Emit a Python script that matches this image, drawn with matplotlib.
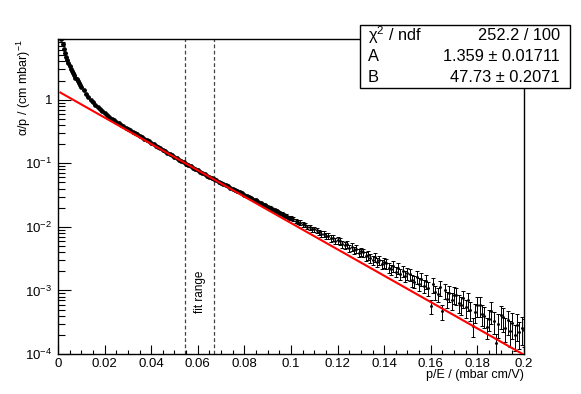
import numpy as np
import matplotlib
matplotlib.use('Agg')
import matplotlib.pyplot as plt
from matplotlib.patches import Rectangle
from matplotlib.ticker import FixedLocator, FixedFormatter, LogLocator, NullFormatter

plt.rcParams['font.family'] = ['Liberation Sans', 'DejaVu Sans']
plt.rcParams['mathtext.fontset'] = 'custom'
plt.rcParams['mathtext.rm'] = 'Liberation Sans'
plt.rcParams['mathtext.it'] = 'Liberation Sans:italic'
plt.rcParams['mathtext.default'] = 'regular'

# fit result (stat box)
A, A_err = 1.359, 0.01711
B, B_err = 47.73, 0.2071
chi2, ndf = 252.2, 100
fit_lo, fit_hi = 0.0545, 0.067

# p/E bin centres: fine steps near 0, then 0.001
x_steep = np.round(np.arange(0.001, 0.01001, 0.0005), 4)
x_main = np.round(np.arange(0.011, 0.20001, 0.001), 3)

# alpha/p
alpha_steep = [11.03, 8.96, 7.44, 6.33, 5.38, 4.74, 4.22, 3.76, 3.38, 3.08,
               2.84, 2.62, 2.42, 2.23, 2.08, 1.94, 1.81, 1.68, 1.57]
alpha_main = [
    1.40, 1.24, 1.106, 0.995, 0.906, 0.831, 0.765, 0.707, 0.655, 0.612,
    0.573, 0.537, 0.505, 0.476, 0.450, 0.426, 0.404, 0.3835, 0.364, 0.346,
    0.3294, 0.3133, 0.2979, 0.2834, 0.2696, 0.2564, 0.2438, 0.2319, 0.2207, 0.2099,
    0.1996, 0.1895, 0.1803, 0.1714, 0.1631, 0.1551, 0.1472, 0.1400, 0.1329, 0.1264,
    0.1202, 0.1143, 0.1088, 0.1034, 0.0984, 0.0936, 0.0897, 0.0851, 0.0815, 0.0774,
    0.0741, 0.0703, 0.0673, 0.0639, 0.0612, 0.0585, 0.0560, 0.0537, 0.0514, 0.0492,
    0.0473, 0.0450, 0.0435, 0.0412, 0.0398, 0.0378, 0.0366, 0.0347, 0.0336, 0.0318,
    0.0308, 0.0291, 0.0283, 0.0266, 0.0260, 0.0245, 0.0239, 0.0224, 0.0219, 0.0206,
    0.0201, 0.0189, 0.0181, 0.0176, 0.0166, 0.0162, 0.0152, 0.0149, 0.0140, 0.0137,
    0.01330, 0.01235, 0.01190, 0.01170, 0.01092, 0.01078, 0.01005, 0.00990, 0.00925, 0.00915,
    0.00890, 0.00815, 0.00780, 0.00778, 0.00715, 0.00722, 0.00660, 0.00668, 0.00605, 0.00612,
    0.00598, 0.00530, 0.00518, 0.00532, 0.00465, 0.00482, 0.00430, 0.00448, 0.00392, 0.00412,
    0.00395, 0.00345, 0.00358, 0.00318, 0.00300, 0.00330, 0.00276, 0.00298, 0.00260, 0.00275,
    0.00268, 0.00228, 0.00215, 0.00240, 0.00198, 0.00222, 0.00182, 0.00205, 0.00168, 0.00188,
    0.00182, 0.00145, 0.00138, 0.00165, 0.00128, 0.00152, 0.00118, 0.00140, 0.00108, 0.00056,
    0.00124, 0.00095, 0.00088, 0.00112, 0.00047, 0.00100, 0.00074, 0.00092, 0.00070, 0.00086,
    0.00085, 0.00064, 0.00060, 0.00076, 0.00054, 0.00070, 0.00050, 0.00028, 0.00046, 0.00058,
    0.00058, 0.00043, 0.00040, 0.00027, 0.00036, 0.00048, 0.00033, 0.00015, 0.00030, 0.00041,
    0.00038, 0.00026, 0.00034, 0.00023, 0.00031, 0.00020, 0.00029, 0.00022, 0.00026, 0.00024,
]

# relative errors
rel_err_steep = [0.005, 0.005, 0.004, 0.004, 0.004, 0.004, 0.004, 0.004, 0.004, 0.004,
                 0.004, 0.004, 0.004, 0.004, 0.004, 0.004, 0.004, 0.004, 0.004]
rel_err_main = [
    0.004, 0.004, 0.004, 0.004, 0.004, 0.004, 0.005, 0.004, 0.005, 0.005,
    0.005, 0.005, 0.005, 0.005, 0.006, 0.005, 0.006, 0.006, 0.006, 0.006,
    0.006, 0.006, 0.006, 0.007, 0.006, 0.007, 0.007, 0.007, 0.007, 0.007,
    0.007, 0.007, 0.007, 0.008, 0.007, 0.008, 0.008, 0.008, 0.008, 0.008,
    0.008, 0.009, 0.012, 0.009, 0.010, 0.011, 0.010, 0.012, 0.011, 0.013,
    0.013, 0.014, 0.015, 0.014, 0.016, 0.017, 0.016, 0.018, 0.019, 0.020,
    0.021, 0.023, 0.022, 0.025, 0.026, 0.028, 0.027, 0.030, 0.032, 0.033,
    0.034, 0.036, 0.035, 0.039, 0.041, 0.040, 0.044, 0.046, 0.045, 0.049,
    0.051, 0.053, 0.056, 0.055, 0.059, 0.062, 0.060, 0.065, 0.068, 0.066,
    0.071, 0.074, 0.072, 0.078, 0.080, 0.084, 0.082, 0.088, 0.091, 0.089,
    0.094, 0.097, 0.100, 0.098, 0.104, 0.107, 0.111, 0.109, 0.115, 0.118,
    0.120, 0.124, 0.128, 0.125, 0.132, 0.136, 0.134, 0.140, 0.143, 0.147,
    0.150, 0.148, 0.155, 0.160, 0.157, 0.163, 0.168, 0.166, 0.172, 0.176,
    0.180, 0.178, 0.185, 0.190, 0.187, 0.195, 0.200, 0.197, 0.205, 0.210,
    0.214, 0.220, 0.217, 0.225, 0.230, 0.228, 0.236, 0.240, 0.245, 0.250,
    0.255, 0.250, 0.262, 0.268, 0.270, 0.275, 0.280, 0.285, 0.290, 0.295,
    0.300, 0.305, 0.310, 0.306, 0.318, 0.325, 0.330, 0.335, 0.340, 0.345,
    0.350, 0.355, 0.360, 0.365, 0.370, 0.375, 0.380, 0.390, 0.395, 0.400,
    0.410, 0.415, 0.420, 0.430, 0.435, 0.440, 0.450, 0.455, 0.460, 0.470,
]

x_ticks = [0, 0.02, 0.04, 0.06, 0.08, 0.1, 0.12, 0.14, 0.16, 0.18, 0.2]
x_tick_labels = ['0', '0.02', '0.04', '0.06', '0.08', '0.1', '0.12', '0.14', '0.16', '0.18', '0.2']
y_ticks = [1e-4, 1e-3, 1e-2, 1e-1, 1]
y_tick_labels = ['10$^{-4}$', '10$^{-3}$', '10$^{-2}$', '10$^{-1}$', '1']

x = np.concatenate([x_steep, x_main])
y = np.array(alpha_steep + alpha_main)
yerr = y * np.array(rel_err_steep + rel_err_main)

fig = plt.figure(figsize=(5.81, 3.94), dpi=100)
ax = fig.add_axes([0.0998, 0.1015, 0.802, 0.7995])

dense = x < 0.1
ax.errorbar(x[dense], y[dense], yerr=yerr[dense], fmt='o', ms=2.4, color='k', ecolor='k',
            elinewidth=0.8, capsize=1.6, capthick=0.8, zorder=2)
ax.errorbar(x[~dense], y[~dense], yerr=yerr[~dense], fmt='o', ms=1.1, color='k', ecolor='k',
            elinewidth=0.7, capsize=1.6, capthick=0.7, zorder=2)

xf = np.linspace(0.001, 0.2, 300)
ax.plot(xf, A * np.exp(-B * xf), color='#ff0000', lw=1.5, zorder=3)

for xv in (fit_lo, fit_hi):
    ax.axvline(xv, color='#444444', ls=(0, (3, 2)), lw=0.9, zorder=1)
ax.text((fit_lo + fit_hi) / 2, 4.4e-4, 'fit range', rotation=90,
        ha='center', va='bottom', fontsize=8.5)

ax.set_yscale('log')
ax.set_xlim(0, 0.2)
ax.set_ylim(1e-4, 9)

ax.xaxis.set_major_locator(FixedLocator(x_ticks))
ax.xaxis.set_major_formatter(FixedFormatter(x_tick_labels))
ax.xaxis.set_minor_locator(FixedLocator(np.arange(0, 0.2001, 0.005)))
ax.yaxis.set_major_locator(FixedLocator(y_ticks))
ax.yaxis.set_major_formatter(FixedFormatter(y_tick_labels))
ax.yaxis.set_minor_locator(LogLocator(base=10, subs=np.arange(2, 10), numticks=20))
ax.yaxis.set_minor_formatter(NullFormatter())

ax.tick_params(axis='both', which='both', direction='in', top=False, right=False,
               labelsize=9.5, width=0.8)
ax.tick_params(axis='x', which='major', length=6.5, pad=3)
ax.tick_params(axis='x', which='minor', length=3)
ax.tick_params(axis='y', which='major', length=9.5, pad=4)
ax.tick_params(axis='y', which='minor', length=4.8)
for s in ax.spines.values():
    s.set_linewidth(1.0)

ax.set_xlabel('p/E / (mbar cm/V)', loc='right', fontsize=9)
ax.xaxis.set_label_coords(1.0, -0.048)
ax.set_ylabel('α/p / (cm mbar)$^{-1}$', loc='top', fontsize=9)
ax.yaxis.set_label_coords(-0.054, 1.0)

# stat box
bx0, by0, bx1, by1 = 360 / 581, 1 - 88 / 394, 570 / 581, 1 - 25 / 394
fig.add_artist(Rectangle((bx0, by0), bx1 - bx0, by1 - by0, transform=fig.transFigure,
                         facecolor='white', edgecolor='k', lw=1, zorder=10))
rows = [('χ$^2$ / ndf', f'{chi2} / {ndf}'),
        ('A', f'{A} ± {A_err}'),
        ('B', f'{B} ± {B_err}')]
for i, (name, val) in enumerate(rows):
    yy = 1 - (35.5 + 21 * i) / 394
    fig.text(368 / 581, yy, name, ha='left', va='center', fontsize=11.8, zorder=11)
    fig.text(560 / 581, yy, val, ha='right', va='center', fontsize=11.8, zorder=11)

fig.savefig('out.png', dpi=100)
